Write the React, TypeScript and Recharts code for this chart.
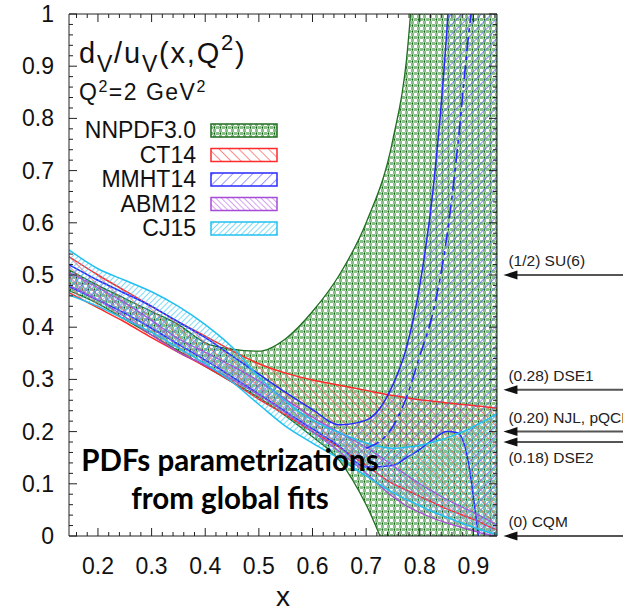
import React from "react"
import { ComposedChart, Area, Line, XAxis, YAxis, ReferenceLine } from "recharts"

// x grid shared by every band
const xs = [0.146, 0.2, 0.25, 0.3, 0.35, 0.4, 0.45, 0.5, 0.55, 0.6, 0.65, 0.7, 0.75, 0.775, 0.8, 0.825, 0.85, 0.87, 0.89, 0.9, 0.91, 0.925, 0.944]

const nnpdfLo = [0.47, 0.445, 0.415, 0.385, 0.355, 0.325, 0.295, 0.265, 0.23, 0.19, 0.145, 0.06, -0.06, -0.12, -0.18, -0.24, -0.3, -0.35, -0.4, -0.42, -0.44, -0.47, -0.5]
const nnpdfHi = [0.51, 0.48, 0.455, 0.43, 0.405, 0.37, 0.358, 0.354, 0.378, 0.43, 0.5, 0.6, 0.76, 0.91, 1.25, 1.7, 2.2, 2.6, 3.0, 3.2, 3.4, 3.7, 4.0]
const ct14Lo = [0.466, 0.437, 0.41, 0.38, 0.352, 0.325, 0.295, 0.262, 0.232, 0.2, 0.17, 0.135, 0.1, 0.088, 0.076, 0.064, 0.052, 0.044, 0.036, 0.032, 0.028, 0.02, 0.012]
const ct14Hi = [0.535, 0.5, 0.47, 0.44, 0.41, 0.383, 0.355, 0.33, 0.312, 0.299, 0.289, 0.279, 0.269, 0.265, 0.261, 0.258, 0.255, 0.253, 0.251, 0.25, 0.249, 0.247, 0.245]
const mmhtLo = [0.478, 0.452, 0.427, 0.398, 0.367, 0.337, 0.305, 0.272, 0.238, 0.205, 0.172, 0.132, 0.135, 0.15, 0.166, 0.185, 0.2, 0.198, 0.145, 0.075, -0.01, -0.2, -0.45]
const mmhtHi = [0.52, 0.49, 0.465, 0.44, 0.41, 0.38, 0.345, 0.31, 0.275, 0.242, 0.213, 0.222, 0.29, 0.36, 0.48, 0.665, 0.96, 1.3, 1.7, 2.0, 2.3, 2.7, 3.2]
const mmhtDash = [null, null, null, null, null, null, null, null, null, null, null, 0.168, 0.21, 0.265, 0.345, 0.43, 0.57, 0.74, 0.95, 1.04, 1.14, 1.3, 1.5]
const abmLo = [0.48, 0.452, 0.42, 0.385, 0.352, 0.327, 0.3, 0.27, 0.236, 0.2, 0.162, 0.12, 0.075, 0.058, 0.045, 0.034, 0.025, 0.019, 0.013, 0.01, 0.007, 0.003, 0.0]
const abmHi = [0.505, 0.476, 0.447, 0.413, 0.378, 0.352, 0.326, 0.297, 0.262, 0.228, 0.198, 0.17, 0.135, 0.117, 0.1, 0.085, 0.07, 0.06, 0.05, 0.045, 0.04, 0.032, 0.02]
const cjLo = [0.462, 0.44, 0.415, 0.39, 0.36, 0.33, 0.295, 0.252, 0.21, 0.178, 0.148, 0.115, 0.083, 0.07, 0.058, 0.046, 0.036, 0.028, 0.02, 0.017, 0.013, 0.008, 0.003]
const cjHi = [0.548, 0.512, 0.49, 0.468, 0.44, 0.405, 0.362, 0.305, 0.258, 0.222, 0.198, 0.178, 0.168, 0.17, 0.174, 0.18, 0.188, 0.196, 0.204, 0.21, 0.215, 0.223, 0.235]

const legendNames = ["NNPDF3.0", "CT14", "MMHT14", "ABM12", "CJ15"]

const modelValues = [0.5, 0.28, 0.2, 0.18, 0]
const modelLabels = ["(1/2) SU(6)", "(0.28) DSE1", "(0.20) NJL, pQCD", "(0.18) DSE2", "(0) CQM"]

const xMajor = [0.2, 0.3, 0.4, 0.5, 0.6, 0.7, 0.8, 0.9]
const yMajor = [0, 0.1, 0.2, 0.3, 0.4, 0.5, 0.6, 0.7, 0.8, 0.9, 1]

const X_DOMAIN = [0.146, 0.944]
const FONT = "'Liberation Sans', Arial, sans-serif"

const BANDS = [
  { key: "nnpdf", fill: "url(#pNN)", stroke: "#1e6e1e", w: 1.3 },
  { key: "ct14", fill: "url(#pCT)", stroke: "#ff2a2a", w: 1.5 },
  { key: "mmht", fill: "url(#pMM)", stroke: "#2a2aff", w: 1.5 },
  { key: "abm", fill: "url(#pAB)", stroke: "#a84ad8", w: 1.3 },
  { key: "cj", fill: "url(#pCJ)", stroke: "#22c0f0", w: 1.5 },
]

const data = xs.map((x, i) => ({
  x,
  nnpdf: [nnpdfLo[i], nnpdfHi[i]],
  ct14: [ct14Lo[i], ct14Hi[i]],
  mmht: [mmhtLo[i], mmhtHi[i]],
  abm: [abmLo[i], abmHi[i]],
  cj: [cjLo[i], cjHi[i]],
  dash: mmhtDash[i],
}))

// minor ticks every 0.02
const minor = (a: number, b: number) => {
  const out: number[] = []
  for (let k = Math.round(a * 50); k <= Math.round(b * 50); k++) out.push(k / 50)
  return out
}
const xTicks = minor(0.16, 0.94)
const yTicks = minor(0, 1)
const isMajor = (v: number) => Math.abs(v * 10 - Math.round(v * 10)) < 1e-6

const fmtY = (v: number) => (v === 0 || v === 1 ? String(v) : v.toFixed(1))

function BottomTick({ x, y, payload }: any) {
  const m = isMajor(payload.value)
  return (
    <g>
      <line x1={x} x2={x} y1={y} y2={y - (m ? 8 : 4)} stroke="#222" />
      {m && xMajor.some((t) => Math.abs(t - payload.value) < 1e-6) && (
        <text x={x} y={y + 38} textAnchor="middle" fontSize={23} fontFamily={FONT} fill="#111">
          {payload.value.toFixed(1)}
        </text>
      )}
    </g>
  )
}

function TopTick({ x, y, payload }: any) {
  const m = isMajor(payload.value)
  return <line x1={x} x2={x} y1={y} y2={y + (m ? 8 : 4)} stroke="#222" />
}

function LeftTick({ x, y, payload }: any) {
  const m = isMajor(payload.value)
  return (
    <g>
      <line x1={x} x2={x + (m ? 8 : 4)} y1={y} y2={y} stroke="#222" />
      {m && yMajor.some((t) => Math.abs(t - payload.value) < 1e-6) && (
        <text x={x - 15} y={y + 8} textAnchor="end" fontSize={23} fontFamily={FONT} fill="#111">
          {fmtY(payload.value)}
        </text>
      )}
    </g>
  )
}

function RightTick({ x, y, payload }: any) {
  const m = isMajor(payload.value)
  return <line x1={x} x2={x - (m ? 8 : 4)} y1={y} y2={y} stroke="#222" />
}

function ModelArrow({ x1, y1, x2, y2, text, below }: any) {
  return (
    <g>
      <line x1={x1 + 10} y1={y1} x2={x2} y2={y2} stroke="#555" strokeWidth={2} />
      <polygon points={`${x1},${y1} ${x1 + 14},${y1 - 4.5} ${x1 + 14},${y1 + 4.5}`} fill="#111" />
      <text x={x1 + 5} y={below ? y1 + 21 : y1 - 9} fontSize={15.5} fontFamily={FONT} fill="#222">
        {text}
      </text>
    </g>
  )
}

function Patterns() {
  return (
    <svg width={0} height={0} style={{ position: "absolute" }}>
      <defs>
        <pattern id="pNN" width={6} height={6} patternUnits="userSpaceOnUse">
          <rect x={0} y={0} width={3} height={3} fill="#88bf88" />
          <rect x={3} y={3} width={3} height={3} fill="#88bf88" />
          <path d="M3.7,0.7 L5.3,2.3 M5.3,0.7 L3.7,2.3" stroke="#0b5a0b" strokeWidth={1.1} />
        </pattern>
        <pattern id="pCT" width={7} height={7} patternUnits="userSpaceOnUse" patternTransform="rotate(-45)">
          <line x1={0} y1={0} x2={0} y2={7} stroke="#ff5a5a" strokeWidth={1.4} />
        </pattern>
        <pattern id="pMM" width={7} height={7} patternUnits="userSpaceOnUse" patternTransform="rotate(45)">
          <line x1={0} y1={0} x2={0} y2={7} stroke="#5a5aff" strokeWidth={1.3} />
        </pattern>
        <pattern id="pAB" width={4} height={4} patternUnits="userSpaceOnUse" patternTransform="rotate(-45)">
          <line x1={0} y1={0} x2={0} y2={4} stroke="#b866e2" strokeWidth={1.2} />
        </pattern>
        <pattern id="pCJ" width={4} height={4} patternUnits="userSpaceOnUse" patternTransform="rotate(45)">
          <line x1={0} y1={0} x2={0} y2={4} stroke="#3cc8f2" strokeWidth={1.3} />
        </pattern>
      </defs>
    </svg>
  )
}

function Overlay() {
  return (
    <svg width={623} height={612} style={{ position: "absolute", left: 0, top: 0, pointerEvents: "none" }}>
      <text x={79} y={63} fontSize={29} fontFamily={FONT} fill="#111" letterSpacing={1.8}>
        d<tspan fontSize={23} dy={9}>V</tspan>
        <tspan dy={-9}>/u</tspan>
        <tspan fontSize={23} dy={9}>V</tspan>
        <tspan dy={-9}>(x,Q</tspan>
        <tspan fontSize={22} dy={-13}>2</tspan>
        <tspan dy={13}>)</tspan>
      </text>
      <text x={79} y={100} fontSize={23} fontFamily={FONT} fill="#111" letterSpacing={1.5}>
        Q<tspan fontSize={16} dy={-8}>2</tspan>
        <tspan dy={8}>=2 GeV</tspan>
        <tspan fontSize={16} dy={-8}>2</tspan>
      </text>
      {legendNames.map((name, i) => {
        const base = 138 + i * 24.5
        return (
          <g key={name}>
            <text x={196} y={base} textAnchor="end" fontSize={23} fontFamily={FONT} fill="#111">
              {name}
            </text>
            <rect x={211} y={base - 14} width={66} height={13} fill={BANDS[i].fill} stroke={BANDS[i].stroke} strokeWidth={1.5} />
          </g>
        )
      })}
      <text x={230} y={471} textAnchor="middle" fontSize={29.5} fontWeight="bold" fontFamily="Lato, 'Open Sans', sans-serif" fill="#000">
        PDFs parametrizations
      </text>
      <text x={230} y={509} textAnchor="middle" fontSize={29.5} fontWeight="bold" fontFamily="Lato, 'Open Sans', sans-serif" fill="#000">
        from global fits
      </text>
    </svg>
  )
}

export default function App() {
  return (
    <div style={{ position: "absolute", left: 0, top: 0, width: 623, height: 612, background: "#fff" }}>
      <Patterns />
      <ComposedChart width={623} height={612} data={data} margin={{ top: 0, right: 0, bottom: 0, left: 0 }}>
        <XAxis
          dataKey="x"
          type="number"
          domain={X_DOMAIN}
          allowDataOverflow
          ticks={xTicks}
          interval={0}
          tickLine={false}
          tickSize={0}
          tickMargin={0}
          height={76}
          stroke="#222"
          tick={(p: any) => <BottomTick {...p} />}
          label={{ value: "x", position: "insideBottom", offset: 6, fontSize: 28, fontFamily: FONT, fill: "#111" }}
        />
        <XAxis
          xAxisId="top"
          dataKey="x"
          orientation="top"
          type="number"
          domain={X_DOMAIN}
          allowDataOverflow
          ticks={xTicks}
          interval={0}
          tickLine={false}
          tickSize={0}
          tickMargin={0}
          height={14}
          stroke="#222"
          tick={(p: any) => <TopTick {...p} />}
        />
        <YAxis
          type="number"
          domain={[0, 1]}
          allowDataOverflow
          ticks={yTicks}
          interval={0}
          tickLine={false}
          tickSize={0}
          tickMargin={0}
          width={69}
          stroke="#222"
          tick={(p: any) => <LeftTick {...p} />}
        />
        <YAxis
          yAxisId="right"
          orientation="right"
          type="number"
          domain={[0, 1]}
          allowDataOverflow
          ticks={yTicks}
          interval={0}
          tickLine={false}
          tickSize={0}
          tickMargin={0}
          width={126}
          stroke="#222"
          tick={(p: any) => <RightTick {...p} />}
        />
        {BANDS.map((b) => (
          <Area
            key={b.key}
            type="monotone"
            dataKey={b.key}
            fill={b.fill}
            fillOpacity={1}
            stroke={b.stroke}
            strokeWidth={b.w}
            dot={false}
            activeDot={false}
            isAnimationActive={false}
          />
        ))}
        <Line
          type="monotone"
          dataKey="dash"
          stroke="#2a2aff"
          strokeWidth={1.6}
          strokeDasharray="14 5 4 5"
          dot={false}
          activeDot={false}
          connectNulls={false}
          isAnimationActive={false}
        />
        {modelValues.map((v, i) => (
          <ReferenceLine
            key={modelLabels[i]}
            segment={[{ x: 0.956, y: v }, { x: 1.2, y: v }]}
            ifOverflow="visible"
            shape={(p: any) => <ModelArrow {...p} text={modelLabels[i]} below={v === 0.18} />}
          />
        ))}
      </ComposedChart>
      <Overlay />
    </div>
  )
}
